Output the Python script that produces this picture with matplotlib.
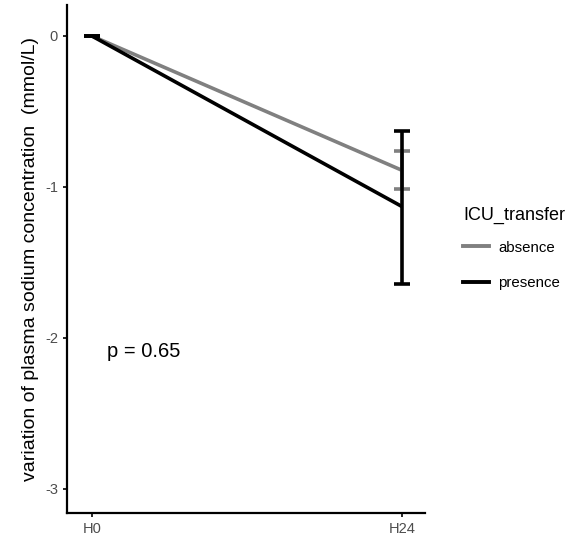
import matplotlib
matplotlib.use("Agg")
import matplotlib.pyplot as plt
from matplotlib.lines import Line2D

plt.rcParams['font.family'] = ['Liberation Sans', 'DejaVu Sans']

# --- data ---
timepoints = ["H0", "H24"]
groups = ["absence", "presence"]
absence_mean = [0.0, -0.89]
absence_lo = [0.0, -1.015]
absence_hi = [0.0, -0.765]
presence_mean = [0.0, -1.13]
presence_lo = [0.0, -1.645]
presence_hi = [0.0, -0.63]
p_label = "p = 0.65"

colors = {"absence": "#808080", "presence": "black"}

fig = plt.figure(figsize=(5.75, 5.37), dpi=100)
ax = fig.add_axes([0.1165, 0.0447, 0.6225, 0.946])

x = list(range(len(timepoints)))
for g, mean, lo, hi in [("absence", absence_mean, absence_lo, absence_hi),
                        ("presence", presence_mean, presence_lo, presence_hi)]:
    c = colors[g]
    ax.plot(x, mean, color=c, lw=2.6, solid_capstyle='butt', zorder=3)
    yerr = [[m - l for m, l in zip(mean, lo)], [h - m for m, h in zip(mean, hi)]]
    ax.errorbar(x, mean, yerr=yerr, fmt='none', ecolor=c, elinewidth=2.6,
                capsize=6, capthick=2.6, zorder=3)

ax.text(0.05, -2.09, p_label, fontsize=14.5, va='center', ha='left')

ax.set_xlim(-0.08, 1.074)
ax.set_ylim(-3.16, 0.205)
ax.set_xticks(x)
ax.set_xticklabels(timepoints)
ax.set_yticks([0, -1, -2, -3])
ax.set_yticklabels(["0", "-1", "-2", "-3"])
ax.tick_params(axis='both', colors="black", labelcolor="#4D4D4D",
               labelsize=10.5, width=1.2, length=3)
for s in ["top", "right"]:
    ax.spines[s].set_visible(False)
for s in ["left", "bottom"]:
    ax.spines[s].set_linewidth(1.6)
ax.set_ylabel("variation of plasma sodium concentration  (mmol/L)", fontsize=14)

handles = [Line2D([], [], color=colors[g], lw=2.8) for g in groups]
leg = fig.legend(handles, groups, title="ICU_transfer", loc='upper left',
                 bbox_to_anchor=(0.782, 0.64), frameon=False, fontsize=10.8,
                 title_fontsize=13, handlelength=1.75, handletextpad=0.6,
                 labelspacing=1.45)
leg._legend_box.align = "left"
leg._legend_box.sep = 12

fig.savefig("out.png", dpi=100)
